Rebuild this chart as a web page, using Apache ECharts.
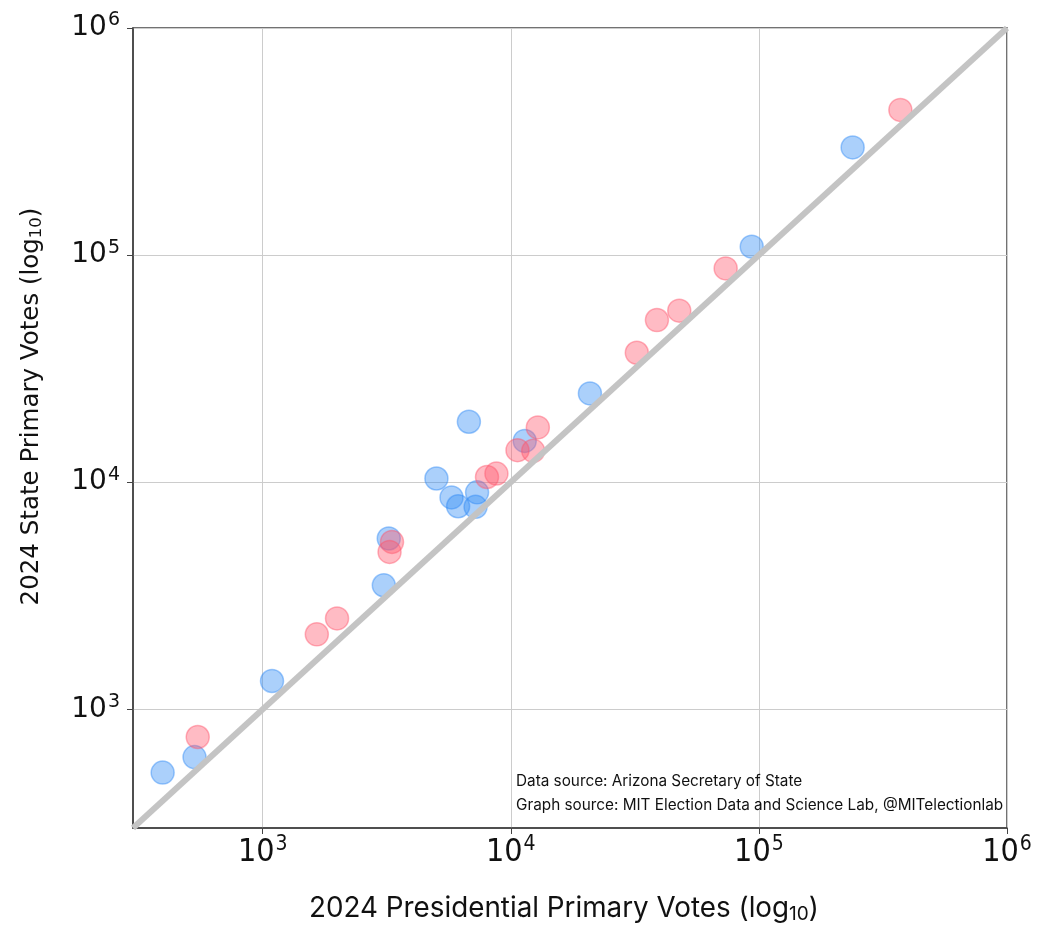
<!DOCTYPE html>
<html>
<head>
<meta charset="utf-8">
<script src="https://cdn.jsdelivr.net/npm/echarts@6/dist/echarts.min.js"></script>
<style>html,body{margin:0;padding:0;background:#fff}#c{width:1039px;height:930px}</style>
</head>
<body>
<div id="c"></div>
<script>
// Blue series: [presidential primary votes, state primary votes]
const bluePres  = [395, 531, 1090, 3077, 3221, 5014, 5768, 6132, 7311, 7210, 6776, 11380, 20840, 93560, 238700];
const blueState = [526, 616, 1332, 3516, 5651, 10380, 8570, 7833, 9019, 7785, 18450, 15200, 24600, 108900, 298000];
// Pink series
const pinkPres  = [547, 1652, 1993, 3245, 3320, 8017, 8750, 10640, 12310, 12850, 32200, 38810, 47750, 73460, 371700];
const pinkState = [755, 2139, 2511, 4932, 5456, 10540, 10910, 13830, 13740, 17420, 37150, 51760, 56930, 87350, 435600];
// Axis range, tick values and reference line
const axisMin = 300, axisMax = 1000000;
const tickValues = [1000, 10000, 100000, 1000000];
const diagonal = [[axisMin, axisMin], [axisMax, axisMax]];
const xTitle = '2024 Presidential Primary Votes (log';
const yTitle = '2024 State Primary Votes (log';
const notes = ['Data source: Arizona Secretary of State', 'Graph source: MIT Election Data and Science Lab, @MITelectionlab'];

const zip = (a, b) => a.map((v, i) => [v, b[i]]);
const powLabel = v => {
  const e = Math.log10(v);
  if (Math.abs(e - Math.round(e)) > 1e-6) return '';
  return '{b|10}{s|' + Math.round(e) + '}';
};
const yTickRich = {
  b: {fontFamily: 'DejaVu Sans', fontSize: 28, color: '#111', lineHeight: 34},
  s: {fontFamily: 'DejaVu Sans', fontSize: 19, color: '#111', verticalAlign: 'top', lineHeight: 34, padding: [0,0,12,1]}
};
const xTickRich = {
  b: {fontFamily: 'DejaVu Sans Condensed, DejaVu Sans', fontSize: 32, color: '#111', lineHeight: 38},
  s: {fontFamily: 'DejaVu Sans Condensed, DejaVu Sans', fontSize: 21, color: '#111', verticalAlign: 'top', lineHeight: 38, padding: [0,0,14,1]}
};
const axisCommon = {
  type: 'log', logBase: 10, min: axisMin, max: axisMax,
  axisLine: {show: true, lineStyle: {color: '#444', width: 1.5}},
  axisTick: {show: true, length: 6, customValues: tickValues, lineStyle: {color: '#444', width: 1}},
  splitLine: {show: true, lineStyle: {color: '#cccccc', width: 1}},
  minorTick: {show: false}, minorSplitLine: {show: false},
  nameLocation: 'middle'
};
const chart = echarts.init(document.getElementById('c'));
chart.setOption({
  backgroundColor: '#fff',
  animation: false,
  grid: {left: 133, right: 32, top: 28, bottom: 102, show: true, borderColor: '#444', borderWidth: 1.5, backgroundColor: 'transparent'},
  xAxis: Object.assign({}, axisCommon, {
    name: '{t|' + xTitle + '}{sub|10}{t|)}',
    nameGap: 66,
    nameTextStyle: {rich: {
      t: {fontFamily: 'Inter', fontSize: 27.8, color: '#111'},
      sub: {fontFamily: 'Inter', fontSize: 19, color: '#111', padding: [11,0,0,0]}
    }, padding: [0, 12, 0, 0]},
    axisLabel: {formatter: powLabel, rich: xTickRich, margin: 6, customValues: tickValues}
  }),
  yAxis: Object.assign({}, axisCommon, {
    name: '{t|' + yTitle + '}{sub|10}{t|)}',
    nameGap: 88,
    nameRotate: 90,
    nameTextStyle: {rich: {
      t: {fontFamily: 'DejaVu Sans', fontSize: 24.5, color: '#111'},
      sub: {fontFamily: 'DejaVu Sans', fontSize: 16.5, color: '#111', padding: [10,0,0,0]}
    }, padding: [0, 0, 0, 43]},
    axisLabel: {formatter: powLabel, rich: yTickRich, margin: 13, customValues: tickValues}
  }),
  graphic: notes.map((t, i) => ({
    type: 'text', left: 516, top: 774 + i * 24, z: 100,
    style: {text: t, fontFamily: 'Inter', fontSize: 15.3, fill: '#111'}
  })),
  series: [
    {type: 'scatter', data: zip(bluePres, blueState), symbolSize: 23, z: 2,
     itemStyle: {color: 'rgba(45,137,245,0.5)', borderColor: 'rgba(45,137,245,0.55)', borderWidth: 1.5}},
    {type: 'scatter', data: zip(pinkPres, pinkState), symbolSize: 23, z: 2,
     itemStyle: {color: 'rgba(255,85,108,0.5)', borderColor: 'rgba(255,85,108,0.55)', borderWidth: 1.5}},
    {type: 'line', data: diagonal, symbol: 'none', z: 5, silent: true,
     lineStyle: {color: '#c4c4c4', width: 6}}
  ]
});
</script>
</body>
</html>
